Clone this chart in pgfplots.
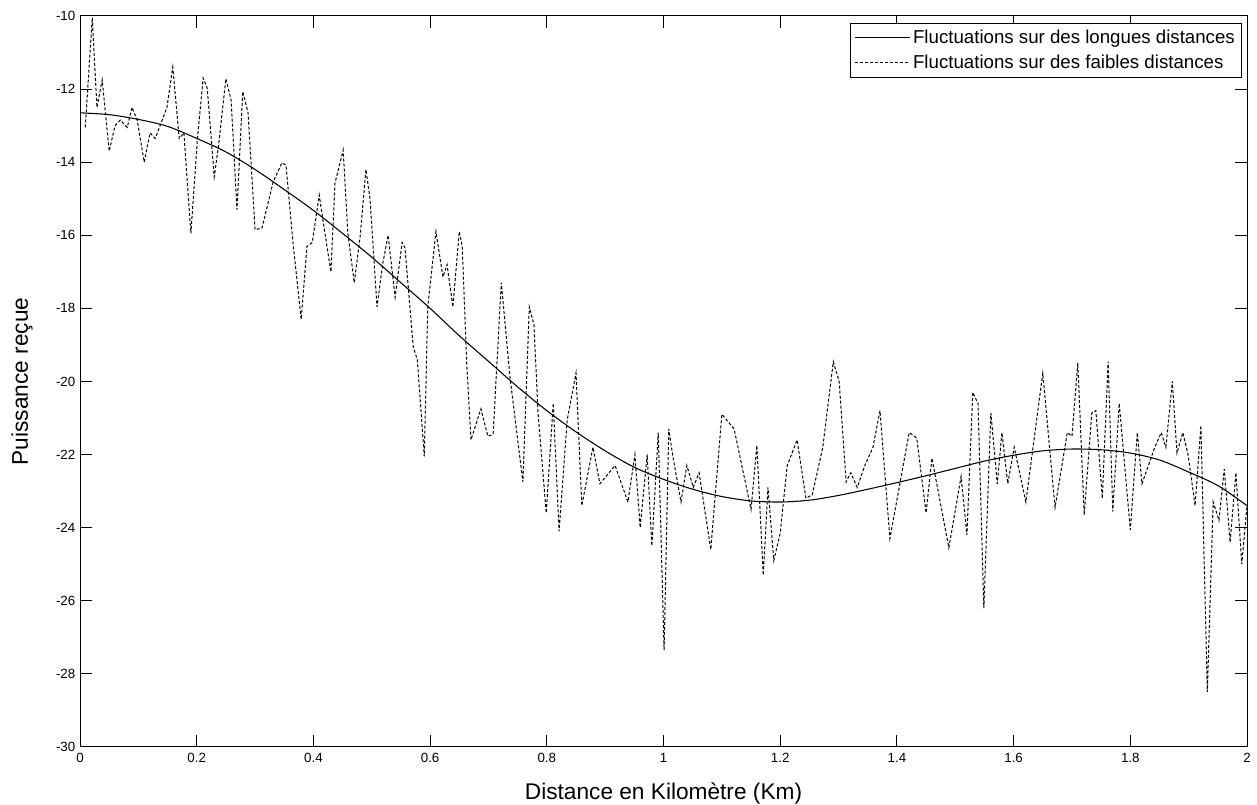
\documentclass[border=0pt]{standalone}
\usepackage{fontspec}
\setmainfont{Liberation Sans}
\usepackage{pgfplots}
\pgfplotsset{compat=1.18}

\begin{document}
\begin{tikzpicture}
\begin{axis}[
    name=ax,
    scale only axis,
    width=875pt, height=548pt,
    xmin=0, xmax=2, ymin=-30, ymax=-10,
    xtick={0,0.2,...,2.01},
    xticklabels={0,0.2,0.4,0.6,0.8,1,1.2,1.4,1.6,1.8,2},
    ytick={-30,-28,...,-10},
    yticklabels={-30,-28,-26,-24,-22,-20,-18,-16,-14,-12,-10},
    tick align=inside,
    major tick length=9pt,
    axis line style={line width=0.75pt},
    tick style={line width=0.75pt, black},
    ticklabel style={font=\fontsize{10}{11}\selectfont},
    xticklabel style={yshift=-1pt},
    xlabel={Distance en Kilomètre (Km)},
    ylabel={Puissance reçue},
    label style={font=\fontsize{17}{19}\selectfont},
    xlabel style={at={(axis description cs:0.5,-0.0725)}, anchor=base},
    ylabel style={at={(axis description cs:-0.0497,0.5)}, anchor=center, rotate=0},
    legend cell align=left,
    legend style={at={(1,1)}, anchor=north east, xshift=-3.75pt, yshift=-5.25pt,
        draw=black, line width=0.75pt, fill=white,
        font=\fontsize{14}{16}\selectfont, inner xsep=3pt, inner ysep=3pt,
        row sep=3pt},
    legend image code/.code={\draw[#1] (0pt,0pt) -- (41pt,0pt);},
]
% tendance lente
\addplot[black, line width=0.8pt, smooth] coordinates {
(0,-12.65) (0.05,-12.7) (0.1,-12.83) (0.15,-13.02) (0.2,-13.35) (0.25,-13.72)
(0.3,-14.2) (0.35,-14.75) (0.4,-15.32) (0.45,-15.95) (0.5,-16.6) (0.55,-17.3)
(0.6,-18.0) (0.65,-18.75) (0.7,-19.45) (0.75,-20.15) (0.8,-20.8) (0.85,-21.38)
(0.9,-21.9) (0.95,-22.35) (1.0,-22.68) (1.05,-22.95) (1.1,-23.15) (1.15,-23.27)
(1.2,-23.3) (1.25,-23.25) (1.3,-23.12) (1.35,-22.95) (1.4,-22.77) (1.45,-22.58)
(1.5,-22.38) (1.55,-22.18) (1.6,-22.02) (1.65,-21.9) (1.7,-21.85) (1.75,-21.87)
(1.8,-21.96) (1.85,-22.15) (1.9,-22.48) (1.95,-22.85) (2.0,-23.4)
};
\addlegendentry{Fluctuations sur des longues distances}
% fluctuations rapides
\addplot[black, line width=0.75pt, dash pattern=on 2.25pt off 1.5pt] coordinates {
(0.009,-13.05) (0.021,-10.05) (0.029,-12.5) (0.038,-11.75) (0.050,-13.7)
(0.060,-13.0) (0.069,-12.85) (0.081,-13.05) (0.089,-12.5) (0.098,-12.85)
(0.110,-14.0) (0.120,-13.2) (0.129,-13.35) (0.149,-12.5) (0.159,-11.4)
(0.170,-13.35) (0.178,-13.2) (0.190,-15.95) (0.201,-13.4) (0.211,-11.7)
(0.218,-11.97) (0.230,-14.4) (0.237,-13.6) (0.250,-11.72) (0.259,-12.3)
(0.269,-15.3) (0.279,-12.07) (0.288,-12.65) (0.300,-15.85) (0.312,-15.8)
(0.331,-14.54) (0.346,-14.02) (0.353,-14.08) (0.365,-16.2) (0.379,-18.3)
(0.389,-16.3) (0.398,-16.2) (0.410,-14.9) (0.417,-15.66) (0.430,-17.0)
(0.437,-14.57) (0.451,-13.67) (0.459,-15.94) (0.470,-17.3) (0.480,-16.05)
(0.490,-14.2) (0.497,-15.0) (0.509,-17.96) (0.519,-16.76) (0.528,-16.0)
(0.540,-17.7) (0.552,-16.2) (0.557,-16.35) (0.571,-19.05) (0.578,-19.4)
(0.590,-22.05) (0.596,-17.96) (0.610,-15.9) (0.622,-17.14) (0.629,-16.8)
(0.639,-17.96) (0.650,-15.9) (0.655,-16.3) (0.663,-19.6) (0.670,-21.6)
(0.687,-20.75) (0.699,-21.5) (0.708,-21.45) (0.722,-17.3) (0.737,-19.9)
(0.759,-22.75) (0.770,-17.96) (0.778,-18.45) (0.785,-20.87) (0.799,-23.6)
(0.811,-20.6) (0.821,-24.1) (0.835,-21.05) (0.850,-19.77) (0.860,-23.4)
(0.879,-21.8) (0.891,-22.8) (0.917,-22.3) (0.939,-23.3) (0.951,-22.0)
(0.960,-24.0) (0.972,-22.0) (0.980,-24.5) (0.991,-21.4) (1.001,-27.35)
(1.009,-21.3) (1.016,-22.05) (1.030,-23.3) (1.040,-22.3) (1.051,-22.9)
(1.061,-22.5) (1.081,-24.6) (1.100,-20.9) (1.121,-21.3) (1.150,-23.5)
(1.160,-21.75) (1.171,-25.3) (1.179,-22.9) (1.189,-24.9) (1.200,-24.15)
(1.212,-22.3) (1.229,-21.6) (1.244,-23.2) (1.255,-23.1) (1.273,-21.8)
(1.291,-19.46) (1.301,-20.0) (1.313,-22.75) (1.321,-22.5) (1.332,-22.9)
(1.345,-22.3) (1.359,-21.8) (1.371,-20.8) (1.388,-24.3) (1.421,-21.4)
(1.434,-21.55) (1.450,-23.6) (1.460,-22.1) (1.489,-24.55) (1.510,-22.6)
(1.520,-24.2) (1.530,-20.3) (1.539,-20.6) (1.549,-26.2) (1.561,-20.86)
(1.572,-22.8) (1.580,-21.4) (1.590,-22.8) (1.601,-21.8) (1.621,-23.3)
(1.650,-19.77) (1.671,-23.45) (1.692,-21.4) (1.700,-21.5) (1.710,-19.5)
(1.721,-23.65) (1.734,-20.86) (1.741,-20.8) (1.752,-23.2) (1.762,-19.46)
(1.770,-23.56) (1.781,-20.6) (1.800,-24.06) (1.812,-21.4) (1.820,-22.8)
(1.842,-21.8) (1.853,-21.4) (1.861,-21.8) (1.872,-20.0) (1.880,-21.96)
(1.890,-21.4) (1.899,-22.0) (1.911,-23.4) (1.921,-21.2) (1.932,-28.5)
(1.942,-23.3) (1.952,-23.8) (1.961,-22.4) (1.971,-24.4) (1.981,-22.5)
(1.991,-25.0) (2.000,-23.4)
};
\addlegendentry{Fluctuations sur des faibles distances}
\end{axis}
\pgfresetboundingbox
\path ([shift={(-60pt,-43.5pt)}]ax.south west) rectangle ([shift={(7.5pt,12pt)}]ax.north east);
\end{tikzpicture}
\end{document}
